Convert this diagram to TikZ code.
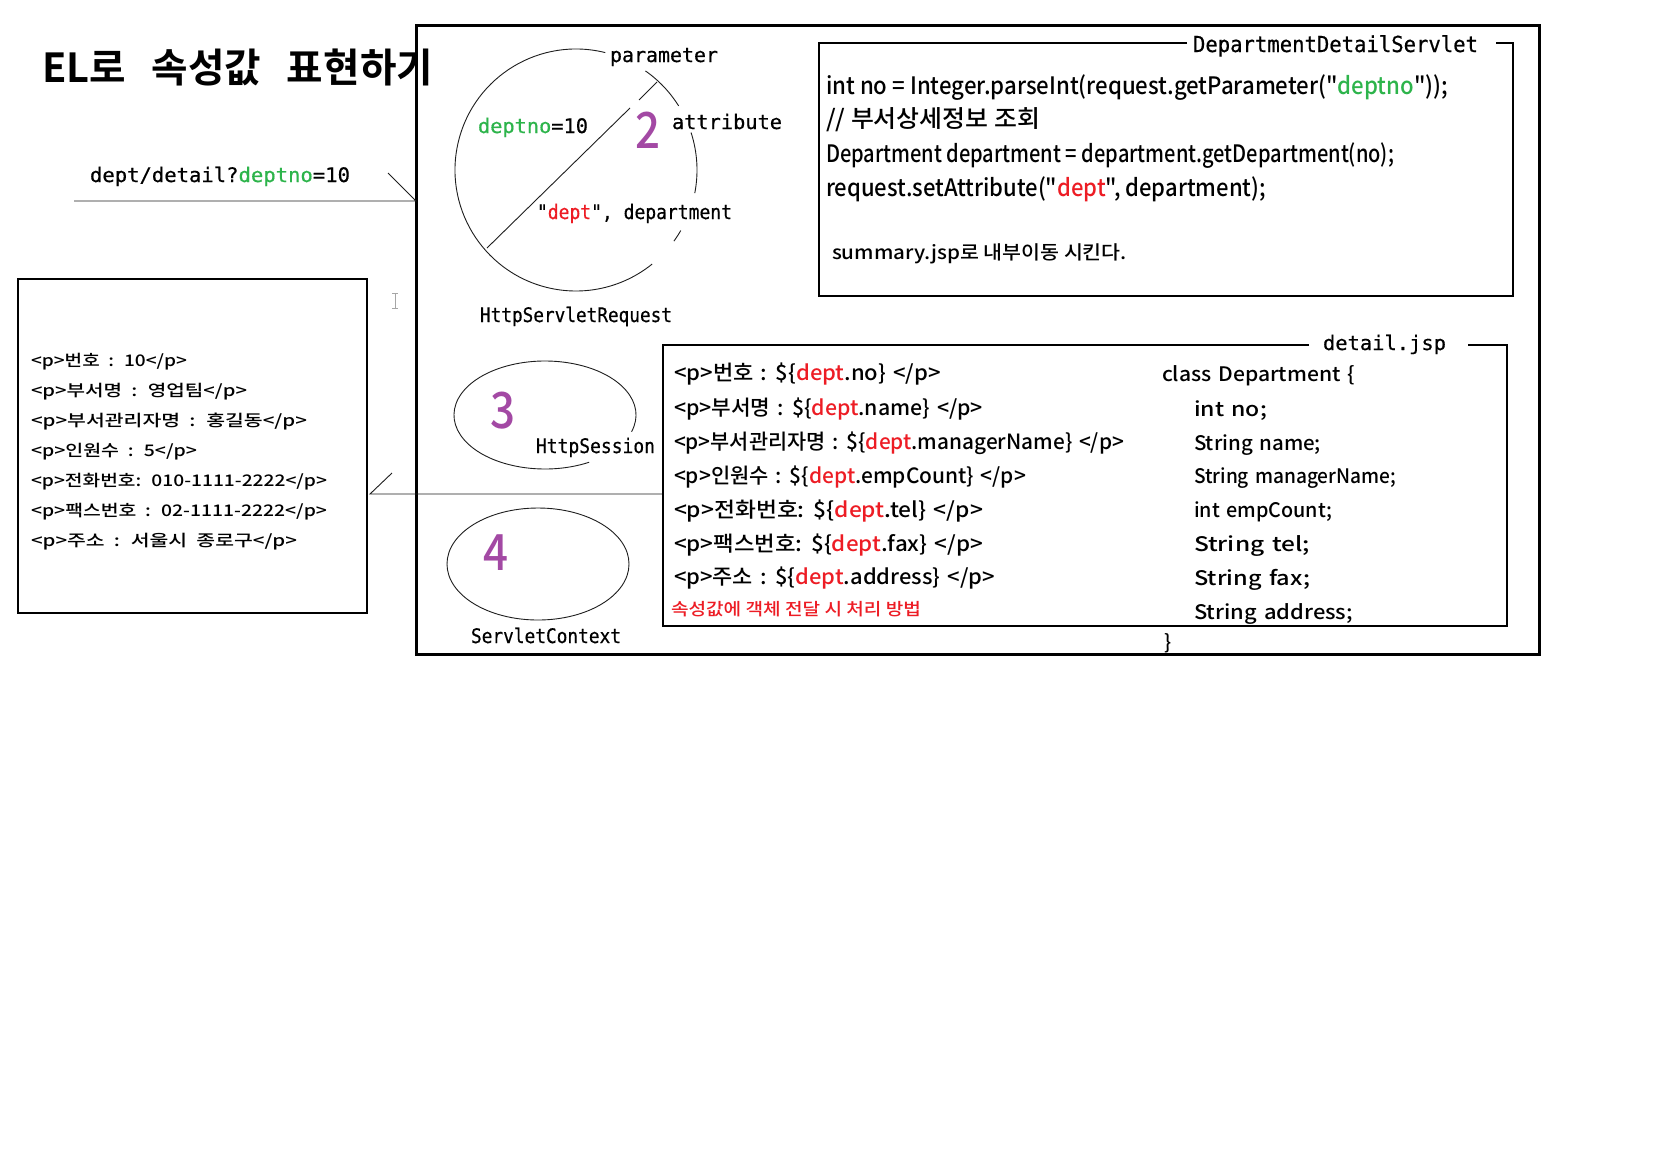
\documentclass[tikz,border=0pt]{standalone}
\usepackage{fontspec}
\usepackage{graphicx}
\setmainfont{Noto Sans CJK KR}
\newfontfamily\krf{Noto Sans CJK KR Medium}
\newfontfamily\monof{DejaVu Sans Mono}[FakeBold=0.6]
\newfontfamily\titlef{Noto Sans CJK KR Bold}
\definecolor{elgreen}{RGB}{45,180,75}
\definecolor{elred}{RGB}{237,28,36}
\definecolor{elpurple}{RGB}{163,73,164}
\definecolor{linegray}{RGB}{30,30,30}
\newcommand\fitw[2]{\resizebox{#1}{\height}{#2}}
\newcommand\setfs[1]{\fontsize{#1}{#1}\selectfont}
\newcommand\widesp{\spaceskip=0.45em plus 0.1em\relax}
\newcommand\midsp{\spaceskip=0.32em plus 0.1em\relax}
\tikzset{
  txt/.style={inner sep=0pt, outer sep=0pt, anchor=base west},
  thinbox/.style={line width=1.2pt, draw=black},
  thinline/.style={line width=0.9pt, draw=linegray},
}
\begin{document}
\begin{tikzpicture}[x=1pt,y=-1pt,font=\krf]
\fill[white] (0,0) rectangle (1672,1168);
\useasboundingbox (0,0) rectangle (1672,1168);

% outer frame
\draw[line width=3pt] (416,25) rectangle (1539,654);

% title
\node[txt] (title) at (42,82) {\fitw{391pt}{\titlef\setfs{40}EL로\hspace{26pt}속성값\hspace{26pt}표현하기}};

% URL
\node[txt] (url) at (90,182) {\fitw{260pt}{\monof\setfs{20}dept/detail?{\color{elgreen}deptno}=10}};
\coordinate (urlL) at (74,201);
\coordinate (urlR) at (416,201);
\coordinate (urlD) at (388,173);
\draw[thinline] (urlL) -- (urlR) -- (urlD);

% left result box
\draw[thinbox] (18,279) rectangle (367,613);
\node[txt] (r1) at (31,366) {\fitw{156pt}{\setfs{16}\widesp <p>번호 : 10</p>}};
\node[txt] (r2) at (31,396) {\fitw{216pt}{\setfs{16}\widesp <p>부서명 : 영업팀</p>}};
\node[txt] (r3) at (31,426) {\fitw{276pt}{\setfs{16}\widesp <p>부서관리자명 : 홍길동</p>}};
\node[txt] (r4) at (31,456) {\fitw{166pt}{\setfs{16}\widesp <p>인원수 : 5</p>}};
\node[txt] (r5) at (31,486) {\fitw{296pt}{\setfs{16}\widesp <p>전화번호: 010-1111-2222</p>}};
\node[txt] (r6) at (31,516) {\fitw{296pt}{\setfs{16}\widesp <p>팩스번호 : 02-1111-2222</p>}};
\node[txt] (r7) at (31,546) {\fitw{266pt}{\setfs{16}\widesp <p>주소 : 서울시 종로구</p>}};

% line from jsp to result
\coordinate (resL) at (370,494);
\coordinate (resR) at (663,494);
\coordinate (resU) at (392,473);
\draw[thinline] (resR) -- (resL) -- (resU);

% I-beam cursor
\draw[gray!70, line width=1pt] (392,293) -- (398,293) (395,293) -- (395,308) (392,308) -- (398,308);

% HttpServletRequest circle (arcs with gaps)
\coordinate (rc) at (576,170);
\draw[thinline] ([shift={(-32:121)}]rc) arc[start angle=-32, end angle=-55, radius=121];
\draw[thinline] ([shift={(-18:121)}]rc) arc[start angle=-18, end angle=11, radius=121];
\draw[thinline] ([shift={(30:121)}]rc) arc[start angle=30, end angle=36, radius=121];
\draw[thinline] ([shift={(-76:121)}]rc) arc[start angle=-76, end angle=-309, radius=121];
\coordinate (dA) at (487,248);
\coordinate (dB) at (630,108);
\coordinate (dC) at (639,100);
\coordinate (dD) at (657,82);
\draw[thinline] (dA) -- (dB) (dC) -- (dD);

\node[txt] (param) at (610,62) {\fitw{108pt}{\monof\setfs{20}parameter}};
\node[txt] (pval) at (478,133) {\fitw{110pt}{\monof\setfs{20}{\color{elgreen}deptno}=10}};
\node[txt] (two) at (635,148) {\fitw{25pt}{\color{elpurple}\setfs{50}2}};
\node[txt] (attr) at (672,129) {\fitw{110pt}{\monof\setfs{20}attribute}};
\node[txt] (aval) at (537,219) {\fitw{195pt}{\monof\setfs{20}"{\color{elred}dept}", department}};
\node[txt] (req) at (480,322) {\fitw{192pt}{\monof\setfs{20}HttpServletRequest}};

% HttpSession ellipse
\coordinate (sc) at (545,415);
\draw[thinline] ([shift={(18:91 and 54)}]sc) arc[start angle=18, end angle=-299, x radius=91, y radius=54];
\node[txt] (three) at (490,428) {\fitw{25pt}{\color{elpurple}\setfs{50}3}};
\node[txt] (sess) at (536,453) {\fitw{119pt}{\monof\setfs{20}HttpSession}};

% ServletContext ellipse
\coordinate (cc) at (538,564);
\draw[thinline] (cc) ellipse[x radius=91, y radius=56];
\node[txt] (four) at (483,570) {\fitw{25pt}{\color{elpurple}\setfs{50}4}};
\node[txt] (ctx) at (471,643) {\fitw{150pt}{\monof\setfs{20}ServletContext}};

% Servlet box
\draw[thinbox] (1187,43) -- (819,43) -- (819,296) -- (1513,296) -- (1513,43) -- (1496,43);
\node[txt] (svt) at (1193,52) {\fitw{285pt}{\monof\setfs{22}DepartmentDetailServlet}};
\node[txt] (s1) at (826,94) {\fitw{622pt}{\setfs{24}int no = Integer.parseInt(request.getParameter("{\color{elgreen}deptno}"));}};
\node[txt] (s2) at (826,127) {\fitw{214pt}{\setfs{24}// 부서상세정보 조회}};
\node[txt] (s3) at (826,162) {\fitw{568pt}{\setfs{24}Department department = department.getDepartment(no);}};
\node[txt] (s4) at (826,196) {\fitw{440pt}{\setfs{24}request.setAttribute("{\color{elred}dept}", department);}};
\node[txt] (s5) at (832,259) {\fitw{295pt}{\setfs{19}summary.jsp로 내부이동 시킨다.}};

% detail.jsp box
\draw[thinbox] (1309,345) -- (663,345) -- (663,626) -- (1507,626) -- (1507,345) -- (1468,345);
\node[txt] (jsp) at (1323,350) {\fitw{123pt}{\monof\setfs{20}detail.jsp}};
\node[txt] (j1) at (674,380) {\fitw{267pt}{\setfs{21}\midsp <p>번호 : \$\{{\color{elred}dept}.no\} </p>}};
\node[txt] (j2) at (674,415) {\fitw{309pt}{\setfs{21}\midsp <p>부서명 : \$\{{\color{elred}dept}.name\} </p>}};
\node[txt] (j3) at (674,449) {\fitw{450pt}{\setfs{21}\midsp <p>부서관리자명 : \$\{{\color{elred}dept}.managerName\} </p>}};
\node[txt] (j4) at (674,483) {\fitw{352pt}{\setfs{21}\midsp <p>인원수 : \$\{{\color{elred}dept}.empCount\} </p>}};
\node[txt] (j5) at (674,517) {\fitw{309pt}{\setfs{21}\midsp <p>전화번호: \$\{{\color{elred}dept}.tel\} </p>}};
\node[txt] (j6) at (674,551) {\fitw{309pt}{\setfs{21}\midsp <p>팩스번호: \$\{{\color{elred}dept}.fax\} </p>}};
\node[txt] (j7) at (674,584) {\fitw{321pt}{\setfs{21}\midsp <p>주소 : \$\{{\color{elred}dept}.address\} </p>}};
\node[txt] (jn) at (671,615) {\fitw{250pt}{\color{elred}\setfs{17}속성값에 객체 전달 시 처리 방법}};

% class Department
\node[txt] (c0) at (1162,381) {\fitw{193pt}{\setfs{20}\midsp class Department \{}};
\node[txt] (c1) at (1194,416) {\fitw{73pt}{\setfs{20}\midsp int no;}};
\node[txt] (c2) at (1194,450) {\fitw{127pt}{\setfs{20}\midsp String name;}};
\node[txt] (c3) at (1194,483) {\fitw{202pt}{\setfs{20}\midsp String managerName;}};
\node[txt] (c4) at (1194,517) {\fitw{138pt}{\setfs{20}\midsp int empCount;}};
\node[txt] (c5) at (1194,551) {\fitw{116pt}{\setfs{20}\midsp String tel;}};
\node[txt] (c6) at (1194,585) {\fitw{116pt}{\setfs{20}\midsp String fax;}};
\node[txt] (c7) at (1194,619) {\fitw{159pt}{\setfs{20}\midsp String address;}};
\node[txt] (c8) at (1164,649) {\setfs{20}\}};
\end{tikzpicture}
\end{document}
